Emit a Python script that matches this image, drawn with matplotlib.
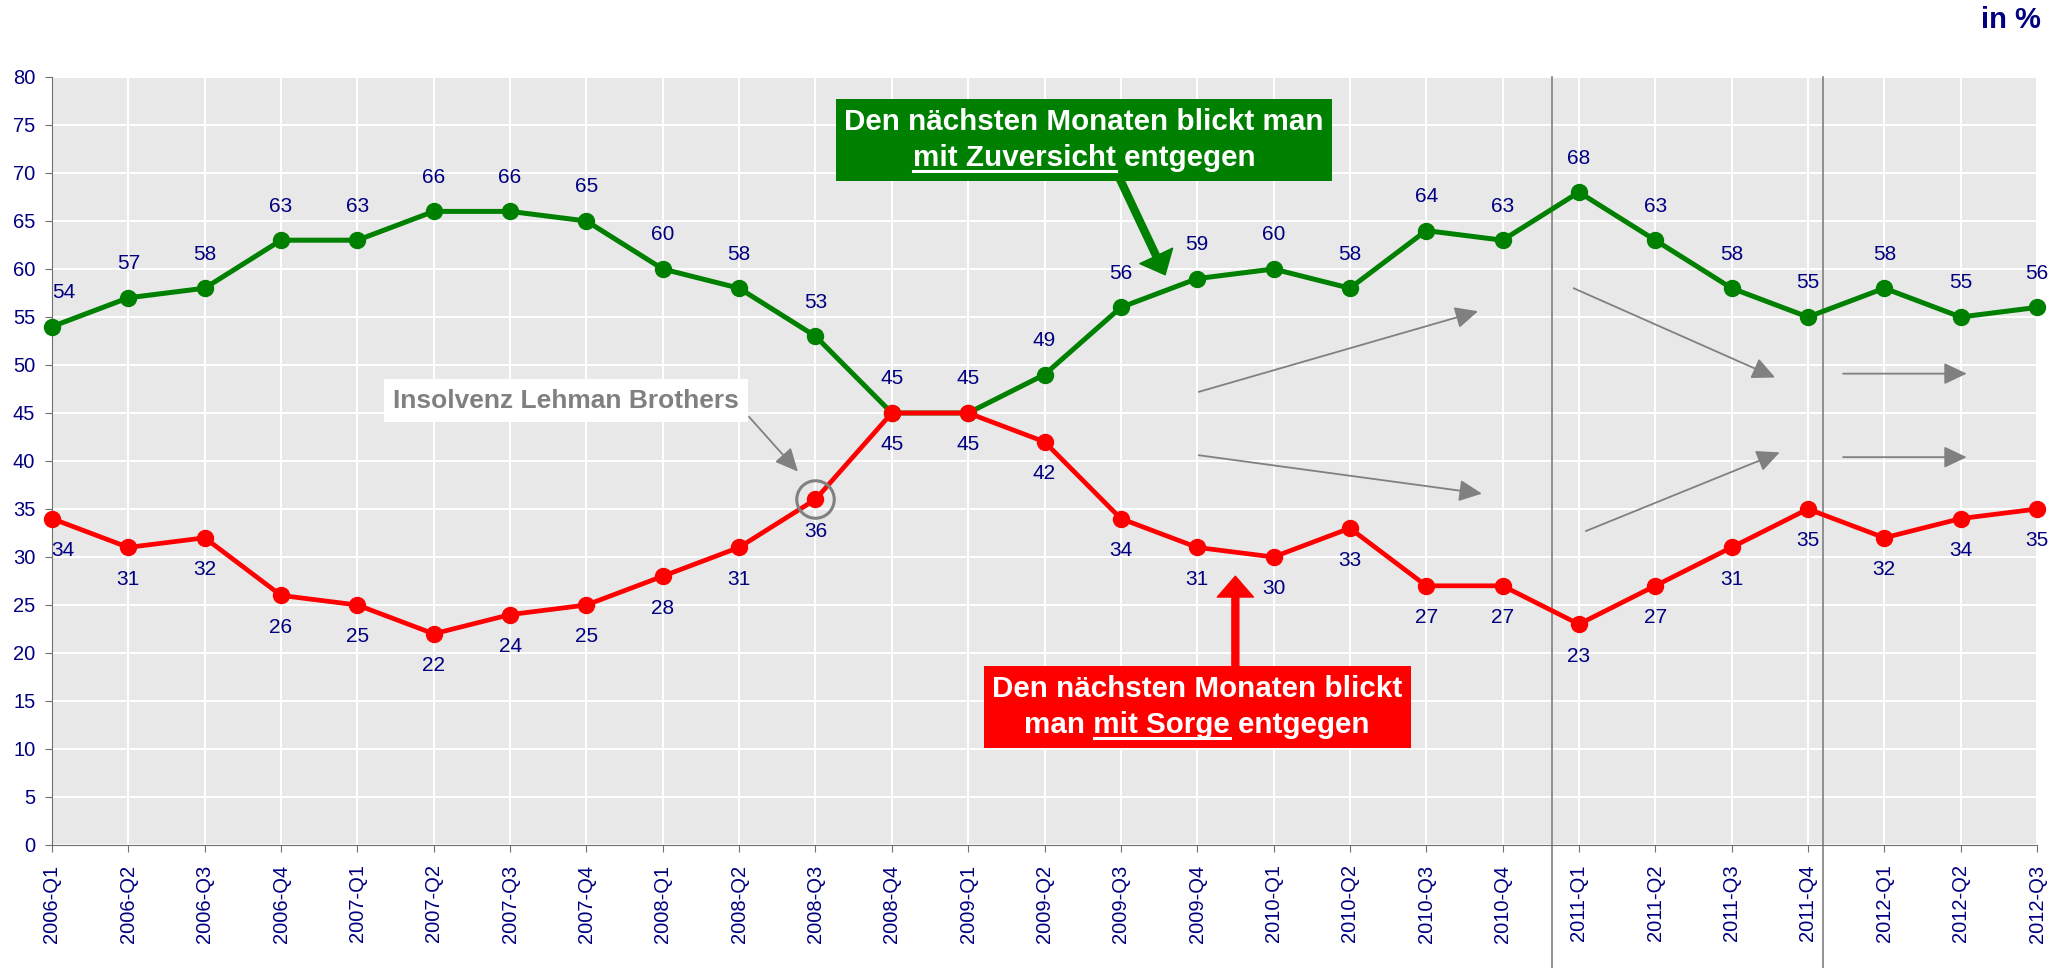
import numpy as np
import matplotlib
matplotlib.use('Agg')
import matplotlib.pyplot as plt
from matplotlib.lines import Line2D
from matplotlib.transforms import IdentityTransform, blended_transform_factory

quarters = ['2006-Q1', '2006-Q2', '2006-Q3', '2006-Q4',
            '2007-Q1', '2007-Q2', '2007-Q3', '2007-Q4',
            '2008-Q1', '2008-Q2', '2008-Q3', '2008-Q4',
            '2009-Q1', '2009-Q2', '2009-Q3', '2009-Q4',
            '2010-Q1', '2010-Q2', '2010-Q3', '2010-Q4',
            '2011-Q1', '2011-Q2', '2011-Q3', '2011-Q4',
            '2012-Q1', '2012-Q2', '2012-Q3']
zuversicht = [54, 57, 58, 63, 63, 66, 66, 65, 60, 58, 53, 45, 45, 49,
              56, 59, 60, 58, 64, 63, 68, 63, 58, 55, 58, 55, 56]
sorge = [34, 31, 32, 26, 25, 22, 24, 25, 28, 31, 36, 45, 45, 42,
         34, 31, 30, 33, 27, 27, 23, 27, 31, 35, 32, 34, 35]

GREEN = '#008000'
RED = '#ff0000'
NAVY = '#000080'
GREY = '#808080'

plt.rcParams['font.family'] = ['Liberation Sans', 'DejaVu Sans']

fig = plt.figure(figsize=(20.71, 9.68), dpi=100)
ax = fig.add_axes([52 / 2071, 123 / 968, 1985 / 2071, 768 / 968])
ax.set_facecolor('#e8e8e8')

x = np.arange(len(quarters))
ax.plot(x, zuversicht, color=GREEN, lw=3.6, marker='o', ms=11.5, zorder=3, clip_on=False)
ax.plot(x, sorge, color=RED, lw=3.4, marker='o', ms=11.5, zorder=3, clip_on=False)

# value labels
for i, v in enumerate(zuversicht):
    dx = 12 if i == 0 else 0
    ax.annotate(str(v), (i, v), xytext=(dx, 34), textcoords='offset pixels',
                ha='center', va='center', color=NAVY, fontsize=15, zorder=4)
for i, v in enumerate(sorge):
    dx = 11 if i == 0 else 0
    ax.annotate(str(v), (i, v), xytext=(dx, -32), textcoords='offset pixels',
                ha='center', va='center', color=NAVY, fontsize=15, zorder=4)

ax.set_xlim(0, len(quarters) - 1)
ax.set_ylim(0, 80)
ax.set_yticks(range(0, 81, 5))
ax.set_xticks(x)
ax.set_xticklabels(quarters, rotation=90)
ax.grid(True, color='white', lw=1.5)
ax.set_axisbelow(True)
for s in ['top', 'right']:
    ax.spines[s].set_visible(False)
for s in ['left', 'bottom']:
    ax.spines[s].set_color('#707070')
ax.tick_params(length=5, color='#707070', labelcolor=NAVY, labelsize=14.5)
ax.tick_params(axis='x', pad=9)
ax.tick_params(axis='y', pad=7)

# separators between years
trans = blended_transform_factory(ax.transData, ax.transAxes)
for xv in [19.65, 23.2]:
    ax.plot([xv, xv], [1, -0.17], transform=trans, clip_on=False,
            color=GREY, lw=1.2, zorder=2.5)

# grey trend arrows
trend_arrows = [((15.02, 47.2), (18.68, 55.6)),
                ((15.02, 40.6), (18.73, 36.6)),
                ((19.93, 58.0), (22.57, 48.7)),
                ((20.09, 32.7), (22.63, 40.9)),
                ((23.46, 49.1), (25.08, 49.1)),
                ((23.46, 40.4), (25.08, 40.4))]
for start, tip in trend_arrows:
    ax.annotate('', xy=tip, xytext=start, zorder=4,
                arrowprops=dict(arrowstyle='-|>,head_length=0.7,head_width=0.33',
                                mutation_scale=20, color=GREY, lw=1.3,
                                shrinkA=0, shrinkB=0))

# Lehman marker
k = quarters.index('2008-Q3')
ax.plot(k, sorge[k], marker='o', ms=27, mfc='none', mec=GREY, mew=2.2, zorder=4)
ax.annotate('', xy=(9.77, 38.9), xytext=(9.13, 44.6), zorder=4,
            arrowprops=dict(arrowstyle='-|>,head_length=0.7,head_width=0.33',
                            mutation_scale=20, color=GREY, lw=1.3,
                            shrinkA=0, shrinkB=0))
ax.text(6.73, 46.3, 'Insolvenz Lehman Brothers', ha='center', va='center',
        color=GREY, fontsize=19, fontweight='bold', zorder=6,
        bbox=dict(boxstyle='square,pad=0.35', fc='white', ec='none'))

# big arrows
big = 'simple,tail_width=0.5,head_width=2.6,head_length=1.5'
ax.annotate('', xy=(14.58, 59.4), xytext=(13.95, 70.0), zorder=5,
            arrowprops=dict(arrowstyle=big, mutation_scale=10, color=GREEN,
                            shrinkA=0, shrinkB=0))
ax.annotate('', xy=(15.5, 28.0), xytext=(15.5, 16.0), zorder=5,
            arrowprops=dict(arrowstyle=big, mutation_scale=10, color=RED,
                            shrinkA=0, shrinkB=0))

g_lines = ['Den nächsten Monaten blickt man', 'mit Zuversicht entgegen']
r_lines = ['Den nächsten Monaten blickt', 'man mit Sorge entgegen']
t_green = ax.text(13.52, 73.44, '\n'.join(g_lines), ha='center', va='center',
                  ma='center', color='white', fontsize=21.3, fontweight='bold',
                  linespacing=1.4, zorder=6,
                  bbox=dict(boxstyle='square,pad=0.28', fc=GREEN, ec='none'))
t_red = ax.text(15.0, 14.375, '\n'.join(r_lines), ha='center', va='center',
                ma='center', color='white', fontsize=21.3, fontweight='bold',
                linespacing=1.4, zorder=6,
                bbox=dict(boxstyle='square,pad=0.28', fc=RED, ec='none'))

fig.text(2041 / 2071, 1 - 20 / 968, 'in %', ha='right', va='center',
         color=NAVY, fontsize=21, fontweight='bold')

fig.canvas.draw()
renderer = fig.canvas.get_renderer()


def text_width(s, size):
    tmp = ax.text(0, 0, s, fontsize=size, fontweight='bold')
    w = tmp.get_window_extent(renderer).width
    tmp.remove()
    return w


def underline(t, line, part):
    bb = t.get_window_extent(renderer)
    size = t.get_fontsize()
    wl = text_width(line, size)
    j = line.index(part)
    wend = text_width(line[:j + len(part)], size)
    wp = text_width(part, size)
    left = (bb.x0 + bb.x1) / 2 - wl / 2
    y = bb.y0 + 1
    fig.add_artist(Line2D([left + wend - wp, left + wend], [y, y],
                          transform=IdentityTransform(), color='white',
                          lw=2.2, zorder=7))


underline(t_green, g_lines[1], 'mit Zuversicht')
underline(t_red, r_lines[1], 'mit Sorge')

fig.savefig('out.png', dpi=100)
